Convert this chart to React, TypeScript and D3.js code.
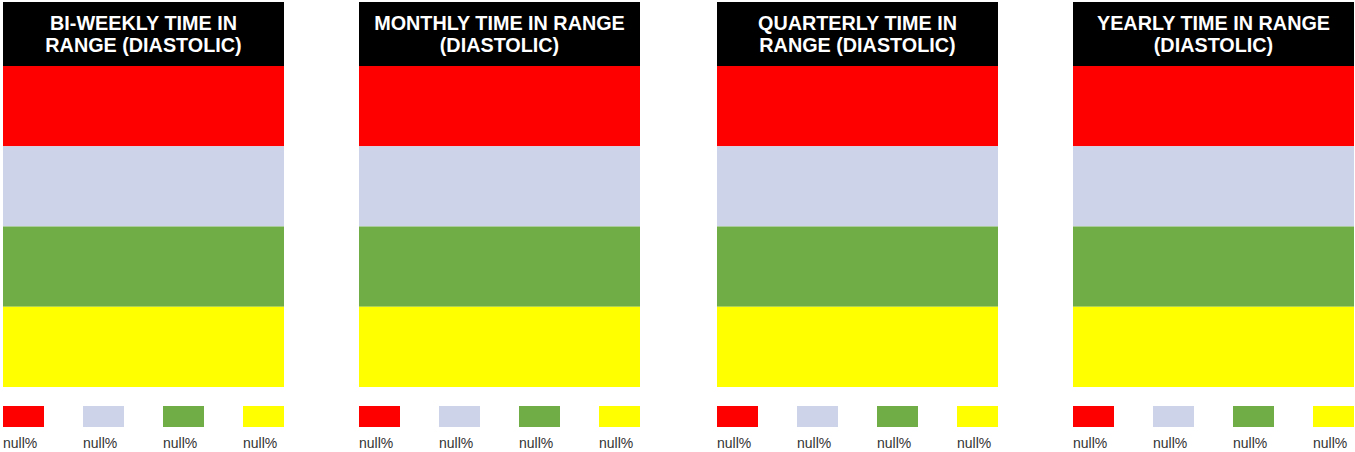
import React from "react";
import * as d3 from "d3";

const panelTitles: string[][] = [
  ["BI-WEEKLY TIME IN", "RANGE (DIASTOLIC)"],
  ["MONTHLY TIME IN RANGE", "(DIASTOLIC)"],
  ["QUARTERLY TIME IN", "RANGE (DIASTOLIC)"],
  ["YEARLY TIME IN RANGE", "(DIASTOLIC)"],
];
const panelIds = ["biweekly", "monthly", "quarterly", "yearly"];
const rangeCategories = ["high", "elevated", "normal", "low"];
const rangeColors = ["#ff0000", "#cdd4e9", "#70ad47", "#ffff00"];
const biweeklyValues: (number | null)[] = [null, null, null, null];
const monthlyValues: (number | null)[] = [null, null, null, null];
const quarterlyValues: (number | null)[] = [null, null, null, null];
const yearlyValues: (number | null)[] = [null, null, null, null];
const panelValues = [biweeklyValues, monthlyValues, quarterlyValues, yearlyValues];

const W = 1355;
const H = 452;
const PANEL_W = 281;
const PANEL_X = [3, 359, 717, 1073];

export default function App() {
  const yBand = d3.scaleBand<string>().domain(rangeCategories).range([66, 387]);
  const xLegend = d3
    .scaleBand<string>()
    .domain(rangeCategories)
    .range([0, PANEL_W])
    .paddingInner(1 - 41 / 80);
  const font = "Arial, 'Liberation Sans', Helvetica, sans-serif";

  return (
    <svg
      width={W}
      height={H}
      style={{ position: "absolute", left: 0, top: 0, background: "#fff" }}
    >
      {panelIds.map((id, pi) => {
        const x0 = PANEL_X[pi];
        const values = panelValues[pi];
        return (
          <g key={id} transform={`translate(${x0},0)`}>
            <rect x={0} y={2} width={PANEL_W} height={64} fill="#000" />
            {panelTitles[pi].map((line, li) => (
              <text
                key={li}
                x={PANEL_W / 2}
                y={30 + li * 22}
                textAnchor="middle"
                fill="#fff"
                fontFamily={font}
                fontWeight="bold"
                fontSize={19.8}
              >
                {line}
              </text>
            ))}
            {rangeCategories.map((c, ci) => (
              <rect
                key={c}
                x={0}
                y={yBand(c)}
                width={PANEL_W}
                height={yBand.bandwidth()}
                fill={rangeColors[ci]}
              />
            ))}
            {rangeCategories.map((c, ci) => (
              <g key={c} transform={`translate(${xLegend(c)},0)`}>
                <rect x={0} y={406} width={xLegend.bandwidth()} height={21} fill={rangeColors[ci]} />
                <text
                  x={0}
                  y={448}
                  fill="#333"
                  fontFamily={font}
                  fontSize={14}
                >
                  {String(values[ci]) + "%"}
                </text>
              </g>
            ))}
          </g>
        );
      })}
    </svg>
  );
}
